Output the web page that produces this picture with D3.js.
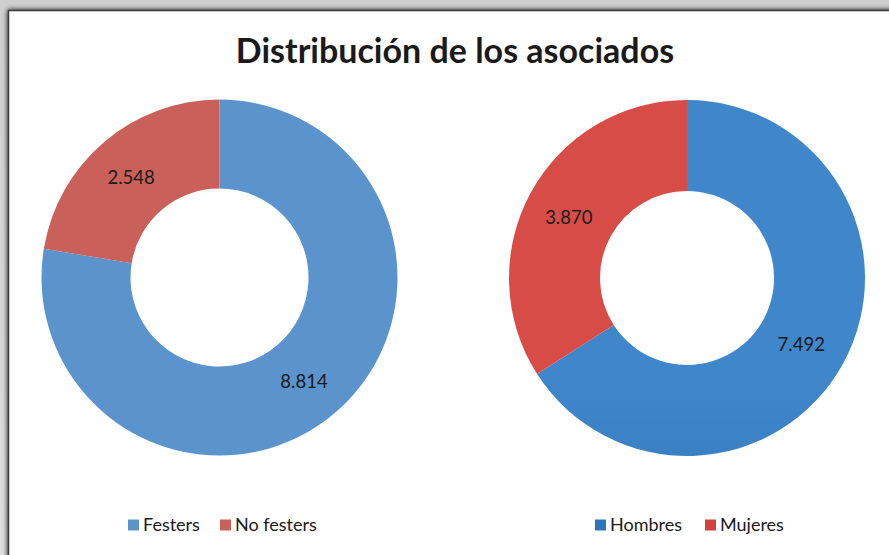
<!DOCTYPE html>
<html>
<head>
<meta charset="utf-8">
<script src="https://cdn.jsdelivr.net/npm/d3@7"></script>
<style>
  html, body { margin: 0; padding: 0; background: #d9d9d9; }
  svg { display: block; }
  text { font-family: Lato, "Open Sans", sans-serif; fill: #1a1a1a; }
</style>
</head>
<body>
<div id="chart"></div>
<script>
const chartTitle = 'Distribución de los asociados';

const festersCategories = ['Festers', 'No festers'];
const festersValues = [8814, 2548];

const sexCategories = ['Hombres', 'Mujeres'];
const sexValues = [7492, 3870];

var width = 889,
  height = 555;

var es = d3.formatLocale({ decimal: ',', thousands: '.', grouping: [3], currency: ['', ' €'] });
var fmt = es.format(',d');

var svg = d3.select('#chart').append('svg').attr('width', width).attr('height', height);

var defs = svg.append('defs');

// grey page behind the chart frame
var bg = defs.append('linearGradient').attr('id', 'page-bg').attr('x1', 0).attr('y1', 0).attr('x2', 0).attr('y2', 1);
bg.append('stop').attr('offset', 0).attr('stop-color', '#cfcfcf');
bg.append('stop').attr('offset', 1).attr('stop-color', '#dedede');
svg.append('rect').attr('width', width).attr('height', height).attr('fill', 'url(#page-bg)');

var shadow = defs.append('filter').attr('id', 'frame-shadow').attr('x', -0.05).attr('y', -0.05).attr('width', 1.1).attr('height', 1.1);
shadow.append('feGaussianBlur').attr('in', 'SourceAlpha').attr('stdDeviation', 2.5);
var merge = shadow.append('feMerge');
merge.append('feMergeNode');
merge.append('feMergeNode').attr('in', 'SourceGraphic');

svg
  .append('rect')
  .attr('x', 8.5)
  .attr('y', 10.5)
  .attr('width', width + 20)
  .attr('height', height + 20)
  .attr('fill', '#fff')
  .attr('stroke', '#3a3a3a')
  .attr('stroke-width', 1.5)
  .attr('filter', 'url(#frame-shadow)');

svg
  .append('text')
  .attr('x', 455)
  .attr('y', 63)
  .attr('text-anchor', 'middle')
  .attr('font-size', 34)
  .attr('font-weight', 700)
  .text(chartTitle);

function gradient(id, top, bottom, cy, r) {
  var g = defs
    .append('linearGradient')
    .attr('id', id)
    .attr('gradientUnits', 'userSpaceOnUse')
    .attr('x1', 0)
    .attr('y1', cy - r)
    .attr('x2', 0)
    .attr('y2', cy + r);
  g.append('stop').attr('offset', 0).attr('stop-color', top);
  g.append('stop').attr('offset', 1).attr('stop-color', bottom);
  return 'url(#' + id + ')';
}

function donut(opts) {
  var pie = d3.pie().sort(null).value((d) => d.value);
  var data = pie(opts.categories.map((c, i) => ({ name: c, value: opts.values[i] })));

  var color = d3.scaleOrdinal().domain(opts.categories).range(opts.colors);

  var arc = d3.arc().innerRadius(opts.inner).outerRadius(opts.outer);
  var labelArc = d3
    .arc()
    .innerRadius((opts.inner + opts.outer) / 2)
    .outerRadius((opts.inner + opts.outer) / 2);

  var g = svg.append('g').attr('transform', 'translate(' + opts.cx + ',' + opts.cy + ')');

  g.selectAll('path.slice')
    .data(data)
    .enter()
    .append('path')
    .attr('class', 'slice')
    .attr('d', arc)
    .attr('fill', (d) => color(d.data.name));

  g.selectAll('text.value')
    .data(data)
    .enter()
    .append('text')
    .attr('class', 'value')
    .attr('transform', (d) => {
      var c = labelArc.centroid(d);
      return 'translate(' + (c[0] + opts.labelShift[0]) + ',' + (c[1] + opts.labelShift[1]) + ')';
    })
    .attr('text-anchor', 'middle')
    .attr('dy', '0.36em')
    .attr('font-size', 18.5)
    .text((d) => fmt(d.data.value));

  // legend underneath
  var legend = svg.append('g').attr('transform', 'translate(' + opts.legendX + ',' + opts.legendY + ')');
  var item = legend
    .selectAll('g')
    .data(opts.categories)
    .enter()
    .append('g')
    .attr('transform', (d, i) => 'translate(' + opts.legendOffsets[i] + ',0)');
  item
    .append('rect')
    .attr('x', 0)
    .attr('y', -11.5)
    .attr('width', 11)
    .attr('height', 11)
    .attr('fill', (d) => opts.legendColors[opts.categories.indexOf(d)]);
  item
    .append('text')
    .attr('x', 15)
    .attr('y', 0)
    .attr('font-size', 18)
    .text((d) => d);
}

donut({
  categories: festersCategories,
  values: festersValues,
  colors: ['#5b94cd', '#c9605a'],
  legendColors: ['#5b94cd', '#c9605a'],
  cx: 219.5,
  cy: 277.5,
  outer: 178,
  inner: 89,
  labelShift: [-2, 2],
  legendX: 128,
  legendY: 531,
  legendOffsets: [0, 92]
});

var rcy = 278,
  rr = 178;
donut({
  categories: sexCategories,
  values: sexValues,
  colors: [gradient('blue-grad', '#3f86ca', '#2a6dae', rcy, rr), gradient('red-grad', '#d84c47', '#b23f3a', rcy, rr)],
  legendColors: ['#2e74ba', '#d0433f'],
  cx: 687,
  cy: rcy,
  outer: rr,
  inner: 87,
  labelShift: [-2, 3],
  legendX: 595,
  legendY: 531,
  legendOffsets: [0, 110]
});
</script>
</body>
</html>
